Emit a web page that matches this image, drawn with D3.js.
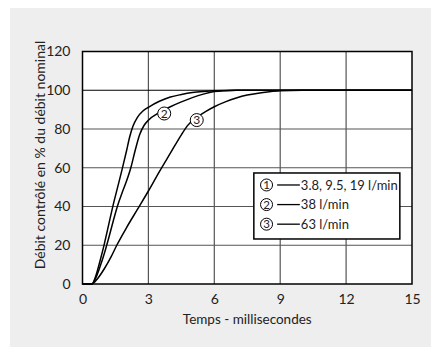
<!DOCTYPE html>
<html>
<head>
<meta charset="utf-8">
<script src="https://cdn.jsdelivr.net/npm/d3@7"></script>
<style>
  body { margin: 0; background: #fff; }
  svg text { font-family: "Lato", "Liberation Sans", sans-serif; fill: #222; }
</style>
</head>
<body>
<div id="chart"></div>
<script>
// time (ms) / percent of nominal flow
const curve1 = [[0, 0], [0.42, 0], [0.6, 4], [0.8, 12], [1.0, 21], [1.2, 31], [1.4, 41], [1.6, 50], [1.8, 59], [2.0, 68.5], [2.15, 76], [2.3, 81.5], [2.5, 86], [2.75, 89.3], [3, 91.2], [3.5, 94.3], [4, 96.5], [4.5, 97.8], [5, 98.8], [5.5, 99.4], [6, 99.8], [7, 100], [15, 100]];
const curve2 = [[0, 0], [0.42, 0], [0.6, 3], [0.8, 9], [1.0, 16], [1.2, 24], [1.4, 32.5], [1.6, 40.5], [1.8, 47], [2.0, 53], [2.2, 60], [2.4, 69], [2.6, 77], [2.8, 81.8], [3, 84.5], [3.5, 88.5], [4, 91.5], [4.5, 94], [5, 96.2], [5.5, 98], [6, 99.3], [6.5, 99.8], [7, 100], [15, 100]];
const curve3 = [[0, 0], [0.42, 0], [0.7, 3], [1.0, 8], [1.3, 14], [1.56, 20], [2.0, 29], [2.5, 38.5], [3, 48], [3.5, 58], [4, 67.5], [4.5, 77], [4.8, 82], [5.2, 86], [5.6, 89], [6, 91.5], [6.5, 94], [7, 96], [7.5, 97.5], [8, 98.5], [8.5, 99.2], [9, 99.7], [10, 100], [15, 100]];

const xTicks = [0, 3, 6, 9, 12, 15];
const yTicks = [0, 20, 40, 60, 80, 100, 120];
const legendLabels = ["3.8, 9.5, 19 l/min", "38 l/min", "63 l/min"];
const curveMarks = [{ n: "2", t: 3.72, v: 88 }, { n: "3", t: 5.2, v: 84.6 }];

const W = 440, H = 357;
const margin = { top: 51.5, right: 28, bottom: 73, left: 82.5 };
const width = W - margin.left - margin.right;
const height = H - margin.top - margin.bottom;

const svg = d3.select("#chart").append("svg").attr("width", W).attr("height", H);

svg.append("rect")
  .attr("x", 10).attr("y", 8)
  .attr("width", 421).attr("height", 339)
  .attr("fill", "#eeeeee");

const g = svg.append("g").attr("transform", `translate(${margin.left},${margin.top})`);

const x = d3.scaleLinear().domain([0, 15]).range([0, width]);
const y = d3.scaleLinear().domain([0, 120]).range([height, 0]);

g.append("rect").attr("width", width).attr("height", height).attr("fill", "#fff");

// grid
g.selectAll(".vgrid")
  .data(xTicks.slice(1, -1))
  .join("line")
  .attr("x1", (d) => x(d)).attr("x2", (d) => x(d))
  .attr("y1", 0).attr("y2", height)
  .attr("stroke", "#555").attr("stroke-width", 1.2);

g.selectAll(".hgrid")
  .data(yTicks.slice(1, -1))
  .join("line")
  .attr("x1", 0).attr("x2", width)
  .attr("y1", (d) => y(d)).attr("y2", (d) => y(d))
  .attr("stroke", (d) => (d === 100 ? "#000" : "#555"))
  .attr("stroke-width", 1.2);

// axes (labels only)
const xAxis = g.append("g")
  .attr("transform", `translate(0,${height})`)
  .call(d3.axisBottom(x).tickValues(xTicks).tickSize(0).tickPadding(10));
const yAxis = g.append("g")
  .call(d3.axisLeft(y).tickValues(yTicks).tickSize(0).tickPadding(12));
[xAxis, yAxis].forEach((a) => {
  a.select(".domain").remove();
  a.selectAll("text").style("font-size", "14px").attr("fill", "#222")
    .style("font-family", '"Lato", sans-serif');
});

// curves
const line = d3.line()
  .x((d) => x(d[0]))
  .y((d) => y(d[1]))
  .curve(d3.curveMonotoneX);

g.selectAll(".curve")
  .data([curve1, curve2, curve3])
  .join("path")
  .attr("d", line)
  .attr("fill", "none")
  .attr("stroke", "#000")
  .attr("stroke-width", 1.5);

// frame
g.append("rect").attr("width", width).attr("height", height)
  .attr("fill", "none").attr("stroke", "#000").attr("stroke-width", 1.5);

// circled numbers on the curves
const marks = g.selectAll(".mark").data(curveMarks).join("g")
  .attr("transform", (d) => `translate(${x(d.t)},${y(d.v)})`);
marks.append("circle").attr("r", 6.5).attr("fill", "#fff").attr("stroke", "#000").attr("stroke-width", 1);
marks.append("text").attr("text-anchor", "middle").attr("dy", "0.36em")
  .style("font-size", "12px").text((d) => d.n);

// legend
const legend = g.append("g").attr("transform", `translate(${x(7.8)},${y(57.3)})`);
legend.append("rect").attr("width", 146).attr("height", 66)
  .attr("fill", "#fff").attr("stroke", "#000").attr("stroke-width", 1.5);
const rows = legend.selectAll(".row").data(legendLabels).join("g")
  .attr("transform", (d, i) => `translate(0,${12 + i * 19.6})`);
rows.append("circle").attr("cx", 12.7).attr("r", 6).attr("fill", "#fff").attr("stroke", "#000").attr("stroke-width", 1);
rows.append("text").attr("x", 12.7).attr("text-anchor", "middle").attr("dy", "0.36em")
  .style("font-size", "11.5px").text((d, i) => i + 1);
rows.append("line").attr("x1", 23.3).attr("x2", 46).attr("stroke", "#000").attr("stroke-width", 1.3);
rows.append("text").attr("x", 47).attr("dy", "0.36em")
  .style("font-size", "13px").text((d) => d);

// axis titles
svg.append("text")
  .attr("x", margin.left + width / 2).attr("y", 324)
  .attr("text-anchor", "middle")
  .style("font-size", "13.5px")
  .text("Temps - millisecondes");

svg.append("text")
  .attr("transform", "translate(45,155) rotate(-90)")
  .attr("text-anchor", "middle")
  .style("font-size", "14px")
  .text("Débit contrôlé en % du débit nominal");
</script>
</body>
</html>
